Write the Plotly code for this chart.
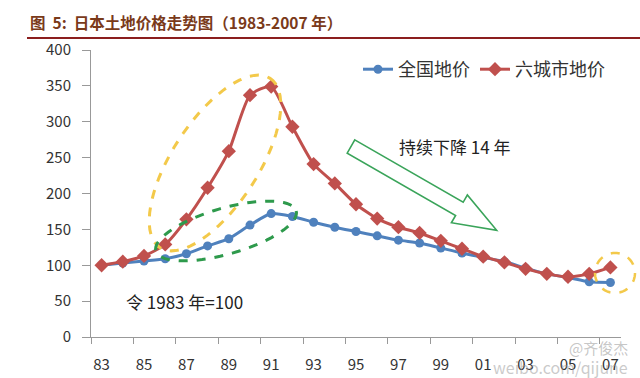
import math
import plotly.graph_objects as go

years = ["83","84","85","86","87","88","89","90","91","92","93","94","95",
         "96","97","98","99","00","01","02","03","04","05","06","07"]
national = [100,103,106,109,116,127,137,156,172,168,160,153,147,
            141,135,131,124,117,111,105,96,88,83,77,76]
six_cities = [100,105,113,129,164,208,259,337,349,293,241,214,185,
              165,153,145,134,123,112,104,95,88,84,88,97]
tick_labels = ["83","85","87","89","91","93","95","97","99","01","03","05","07"]

FONT = "Noto Sans CJK SC, Noto Sans, sans-serif"
BLUE = "#4F81BD"
RED = "#C0504D"

# plot area in pixels
X0, X1, Y0, Y1 = 91, 621, 50, 337
W, H = 640, 378


def px(x, y):
    return (x - X0) / (X1 - X0), (Y1 - y) / (Y1 - Y0)


def ellipse_path(cx, cy, a, b, ang_deg, n=72):
    t = math.radians(ang_deg)
    pts = []
    for i in range(n):
        th = 2 * math.pi * i / n
        ex, ey = a * math.cos(th), b * math.sin(th)
        x = cx + ex * math.cos(t) - ey * math.sin(t)
        y = cy + ex * math.sin(t) + ey * math.cos(t)
        pts.append(px(x, y))
    return "M " + " L ".join(f"{p[0]:.4f},{p[1]:.4f}" for p in pts) + " Z"


def poly_path(points):
    pts = [px(x, y) for x, y in points]
    return "M " + " L ".join(f"{p[0]:.4f},{p[1]:.4f}" for p in pts) + " Z"


xs = list(range(len(years)))

fig = go.Figure()
fig.add_trace(go.Scatter(
    x=xs, y=national, name="全国地价", mode="lines+markers",
    line=dict(color=BLUE, width=3, shape="spline", smoothing=0.6),
    marker=dict(symbol="circle", size=9, color=BLUE)))
fig.add_trace(go.Scatter(
    x=xs, y=six_cities, name="六城市地价", mode="lines+markers",
    line=dict(color=RED, width=3, shape="spline", smoothing=0.6),
    marker=dict(symbol="diamond", size=11, color=RED)))

# arrow geometry (decoration)
cx0, cy0 = 351, 146.5
ux, uy = 0.867, 0.499
pxv, pyv = -0.499, 0.867
bw, hw, hb, tip = 7.6, 16, 125, 168
def P(al, off):
    return (cx0 + ux * al + pxv * off, cy0 + uy * al + pyv * off)
arrow = [P(0, -bw), P(hb, -bw), P(hb, -hw), P(tip, 0), P(hb, hw), P(hb, bw), P(0, bw)]

shapes = [
    dict(type="path", xref="paper", yref="paper", path=ellipse_path(215, 163, 101, 43, -57),
         line=dict(color="#F3C94A", width=3, dash="dash")),
    dict(type="path", xref="paper", yref="paper", path=ellipse_path(226, 231, 73, 23, -16),
         line=dict(color="#2E9A4C", width=3, dash="dash")),
    dict(type="path", xref="paper", yref="paper", path=ellipse_path(615, 273, 20, 20, 0),
         line=dict(color="#F3C94A", width=2.5, dash="dash")),
    dict(type="path", xref="paper", yref="paper", path=poly_path(arrow),
         line=dict(color="#3AA45A", width=1.6)),
    # title underline
    dict(type="line", xref="paper", yref="paper",
         x0=px(27, 0)[0], x1=px(640, 0)[0], y0=px(0, 38)[1], y1=px(0, 38)[1],
         line=dict(color="#8B1E1E", width=2)),
]

annotations = [
    dict(xref="paper", yref="paper", x=px(28, 0)[0], y=px(0, 22)[1], xanchor="left", yanchor="middle",
         text="<b>图  5:  日本土地价格走势图（1983-2007 年）</b>", showarrow=False,
         font=dict(family=FONT, size=15.5, color="#7A3A1A")),
    dict(xref="paper", yref="paper", x=px(455, 0)[0], y=px(0, 146)[1], xanchor="center", yanchor="middle",
         text="持续下降 14 年", showarrow=False, font=dict(family=FONT, size=17, color="#222")),
    dict(xref="paper", yref="paper", x=px(184, 0)[0], y=px(0, 301)[1], xanchor="center", yanchor="middle",
         text="令 1983 年=100", showarrow=False, font=dict(family=FONT, size=17, color="#222")),
    dict(xref="paper", yref="paper", x=px(598, 0)[0], y=px(0, 347)[1], xanchor="center", yanchor="middle",
         text="@齐俊杰", showarrow=False, font=dict(family=FONT, size=15, color="rgba(150,150,150,0.55)")),
    dict(xref="paper", yref="paper", x=px(560, 0)[0], y=px(0, 367)[1], xanchor="center", yanchor="middle",
         text="weibo.com/qijune", showarrow=False, font=dict(family=FONT, size=16, color="rgba(150,150,150,0.5)")),
]

fig.update_layout(
    width=W, height=H,
    margin=dict(l=X0, r=W - X1, t=Y0, b=H - Y1, autoexpand=False),
    paper_bgcolor="white", plot_bgcolor="white",
    font=dict(family=FONT, size=14, color="#333"),
    showlegend=True,
    legend=dict(orientation="h", x=px(358, 0)[0], y=px(0, 51)[1], xanchor="left", yanchor="top",
                font=dict(family=FONT, size=18, color="#333"), bgcolor="rgba(0,0,0,0)",
                itemwidth=30, tracegroupgap=0),
    shapes=shapes, annotations=annotations,
    xaxis=dict(range=[-0.5, 24.5], tickmode="array", tickvals=xs[::2], ticktext=tick_labels,
               showgrid=False, zeroline=False, showline=True, linecolor="#999", linewidth=1,
               automargin=False,
               ticks="", ticklabelstandoff=14, tickfont=dict(size=15, color="#333"),
               minor=dict(tick0=-0.5, dtick=2, ticks="outside", ticklen=6, tickcolor="#999", showgrid=False)),
    yaxis=dict(range=[0, 400], dtick=50, showgrid=False, zeroline=False, showline=True,
               automargin=False,
               linecolor="#999", linewidth=1, ticks="outside", ticklen=8, tickcolor="#999",
               ticklabelstandoff=8, tickfont=dict(size=15, color="#333")),
)

fig.write_html("out.html", config={"displayModeBar": False},
               post_script="document.body.style.margin='0';")
